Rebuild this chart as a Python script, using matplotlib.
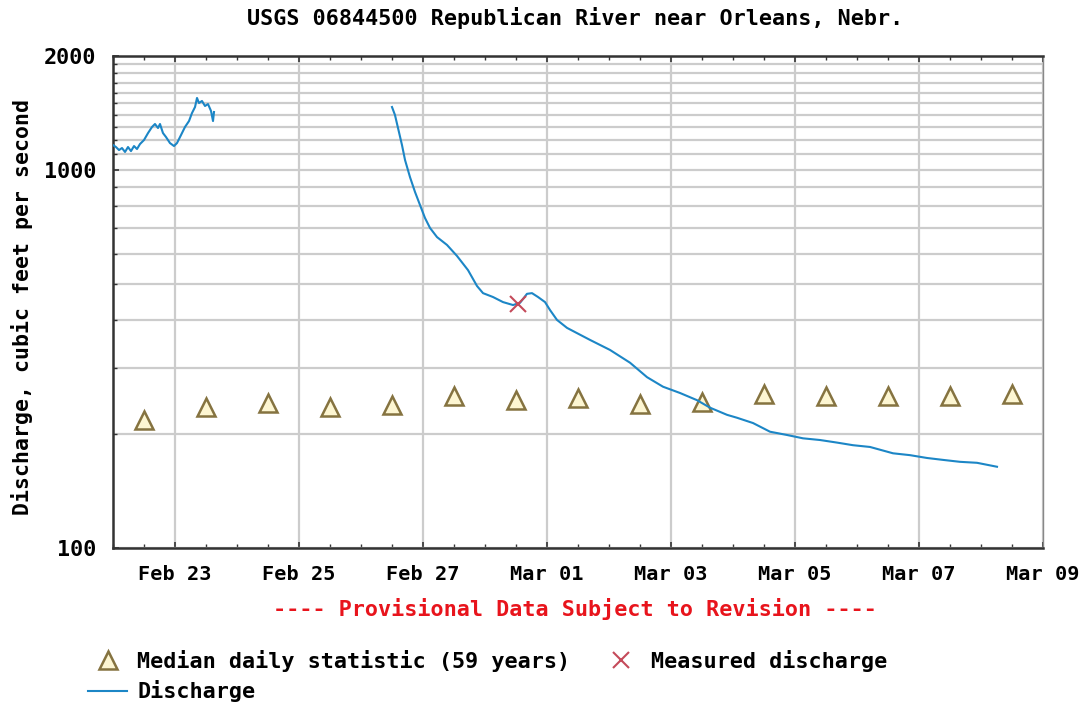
import matplotlib
matplotlib.use("Agg")
import matplotlib.pyplot as plt
import matplotlib.dates as mdates
from matplotlib.ticker import FixedLocator, NullFormatter
import numpy as np
import pandas as pd

# values (days after Feb 22 00:00, cfs)
seg1_days = [0.000, 0.048, 0.097, 0.145, 0.194, 0.242, 0.290, 0.339, 0.387, 0.435,
             0.500, 0.565, 0.629, 0.677, 0.726, 0.758, 0.806, 0.855, 0.919, 0.984,
             1.032, 1.097, 1.161, 1.226, 1.274, 1.323, 1.355, 1.387, 1.435, 1.484,
             1.532, 1.581, 1.613, 1.629]
seg1_cfs = [1163, 1149, 1128, 1142, 1115, 1149, 1121, 1156, 1135, 1170,
            1199, 1251, 1298, 1322, 1290, 1322, 1251, 1221, 1177, 1156,
            1177, 1236, 1298, 1346, 1413, 1466, 1549, 1502, 1521, 1475,
            1493, 1431, 1346, 1422]

seg2_days = [4.500, 4.548, 4.597, 4.661, 4.710, 4.790, 4.871, 4.952, 5.032, 5.113,
             5.226, 5.387, 5.548, 5.726, 5.871, 5.968, 6.129, 6.290, 6.452, 6.565,
             6.677, 6.758, 6.855, 6.968, 7.048, 7.161, 7.323, 7.484, 7.694, 8.016,
             8.339, 8.613, 8.871, 9.145, 9.419, 9.629, 9.903, 10.065, 10.323, 10.597,
             10.871, 11.129, 11.403, 11.677, 11.935, 12.210, 12.581, 12.855, 13.129,
             13.387, 13.661, 13.935, 14.258]
seg2_cfs = [1466, 1396, 1290, 1163, 1062, 957, 874, 807, 746, 702,
            664, 633, 592, 543, 493, 472, 461, 447, 439, 445,
            470, 472, 461, 447, 426, 401, 382, 370, 355, 334,
            309, 283, 267, 257, 246, 235, 225, 221, 214, 203,
            199, 195, 193, 190, 187, 185, 178, 176, 173,
            171, 169, 168, 164]

median_days = [d + 0.5 for d in range(15)]
median_cfs = [218, 236, 242, 236, 239, 252, 246, 249, 240, 243, 255, 252, 252, 252, 255]

measured_days = [6.53]
measured_cfs = [441]

base = pd.Timestamp("2019-02-22")
def to_time(days):
    return base + pd.to_timedelta(np.asarray(days), unit="D")

mono = "DejaVu Sans Mono"
fs = 15.7

fig = plt.figure(figsize=(10.8, 7.04), dpi=100)
ax = fig.add_axes([113/1080, 1 - 548/704, 930/1080, 492/704])

ax.plot(to_time(median_days), median_cfs, linestyle="none", marker="^", markersize=13,
        markerfacecolor="#fdf6d2", markeredgecolor="#857340", markeredgewidth=1.8,
        label="Median daily statistic (59 years)", zorder=3)
ax.plot(to_time(seg1_days), seg1_cfs, color="#1c86c6", linewidth=1.5, zorder=4,
        label="Discharge")
ax.plot(to_time(seg2_days), seg2_cfs, color="#1c86c6", linewidth=1.5, zorder=4)
ax.plot(to_time(measured_days), measured_cfs, linestyle="none", marker="x", markersize=12,
        markeredgewidth=1.5, color="#c44a5a", label="Measured discharge", zorder=5)

ax.set_yscale("log")
ax.set_ylim(100, 2000)
ax.set_xlim(base, base + pd.Timedelta(days=15))

ax.yaxis.set_major_locator(FixedLocator([100, 1000, 2000]))
ax.yaxis.set_major_formatter(plt.FuncFormatter(lambda v, p: "%d" % v))
ax.yaxis.set_minor_locator(FixedLocator(list(range(200, 1000, 100)) + list(range(1100, 2000, 100))))
ax.yaxis.set_minor_formatter(NullFormatter())

ax.xaxis.set_major_locator(mdates.DayLocator(bymonthday=range(1, 32, 2)))
ax.xaxis.set_major_formatter(mdates.DateFormatter("%b %d"))
ax.xaxis.set_minor_locator(mdates.HourLocator(byhour=[0, 12]))

ax.grid(True, which="both", axis="y", color="#cccccc", linewidth=1.6)
ax.grid(True, which="major", axis="x", color="#cccccc", linewidth=1.6)
ax.set_axisbelow(True)

ax.tick_params(which="both", direction="in", top=True, right=False, color="#333333")
ax.tick_params(which="major", length=4, width=1.2)
ax.tick_params(which="minor", length=3, width=1.0)
ax.tick_params(axis="x", which="major", pad=12)
ax.tick_params(axis="y", which="major", pad=12)
for lab in ax.get_yticklabels():
    lab.set_fontfamily(mono)
    lab.set_fontweight("bold")
    lab.set_fontsize(fs)
for lab in ax.get_xticklabels():
    lab.set_fontfamily(mono)
    lab.set_fontweight("bold")
    lab.set_fontsize(14.6)

for side in ["left", "bottom", "top", "right"]:
    ax.spines[side].set_color("#333333")
    ax.spines[side].set_linewidth(1.8)
ax.spines["right"].set_linewidth(1.0)
ax.spines["right"].set_color("#888888")

ax.set_ylabel("Discharge, cubic feet per second", fontfamily=mono, fontweight="bold",
              fontsize=15.5, labelpad=8)
ax.yaxis.set_label_coords(-0.086, 0.49)

fig.text(575/1080, 1 - 18/704, "USGS 06844500 Republican River near Orleans, Nebr.",
         ha="center", va="center", fontfamily=mono, fontweight="bold", fontsize=fs)
fig.text(575/1080, 1 - 609/704, "---- Provisional Data Subject to Revision ----",
         ha="center", va="center", fontfamily=mono, fontweight="bold", fontsize=fs,
         color="#e8141c")

handles, labels = ax.get_legend_handles_labels()
fig.legend(handles, labels,
           loc="upper left", bbox_to_anchor=(88/1080, 1 - 650/704), ncol=2,
           frameon=False, borderpad=0, borderaxespad=0, handlelength=1.8,
           handletextpad=0.45, columnspacing=1.45, labelspacing=0.38,
           prop={"family": mono, "weight": "bold", "size": fs})

fig.savefig("out.png", dpi=100)
